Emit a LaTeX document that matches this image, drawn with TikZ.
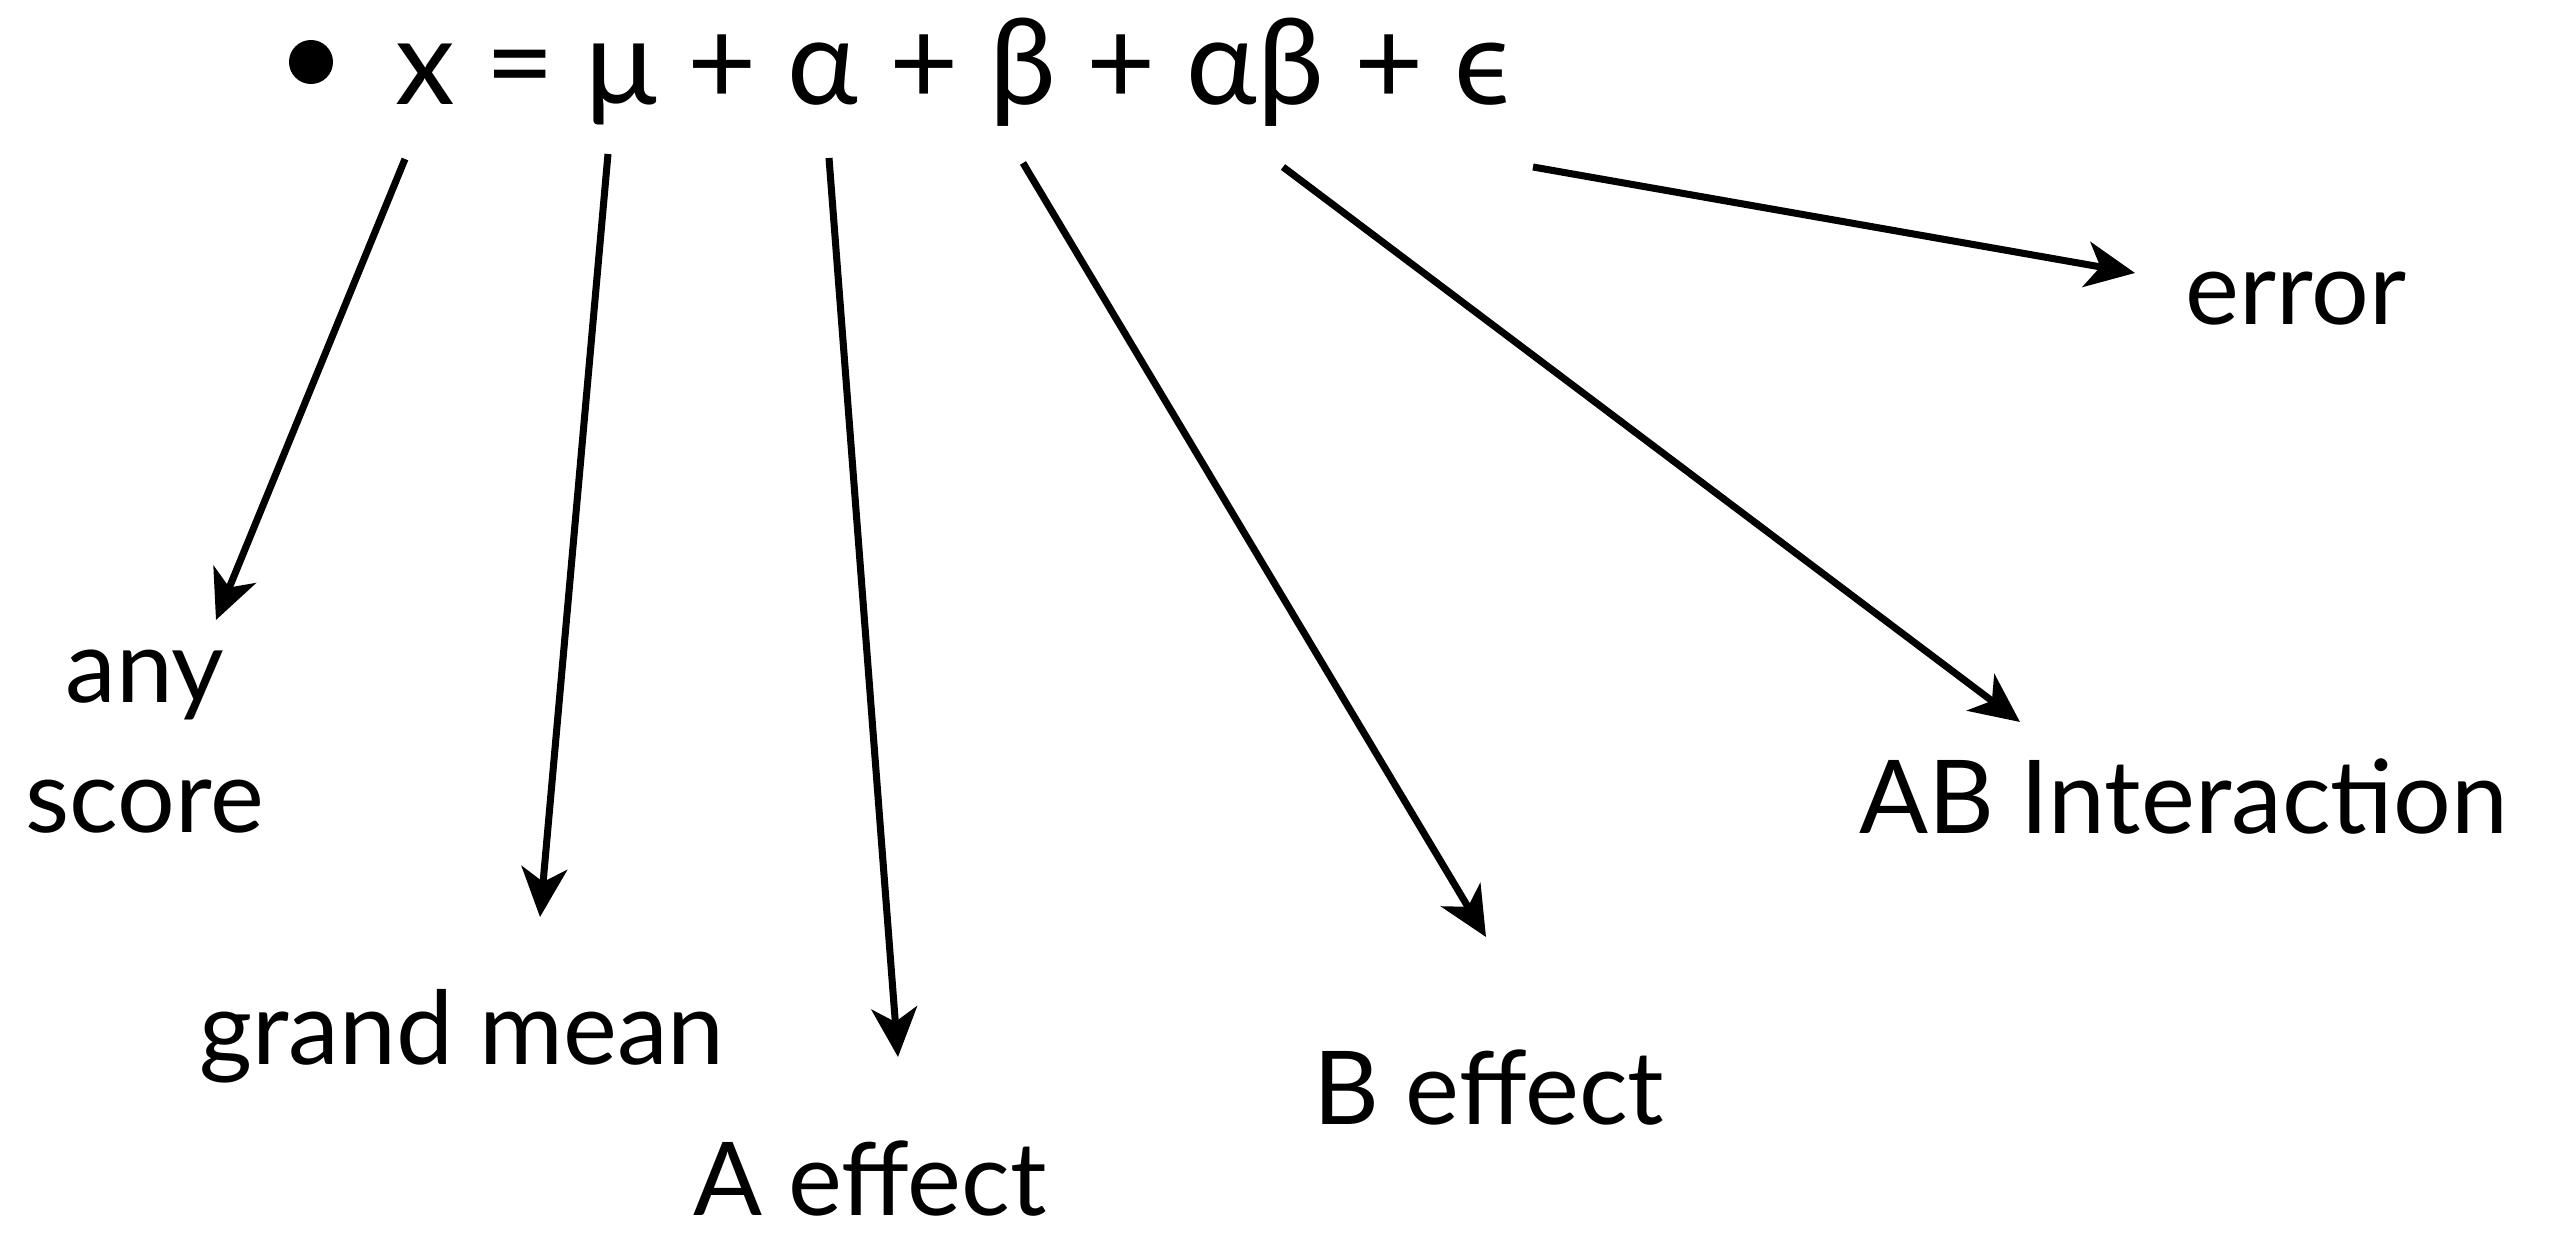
\documentclass[tikz,border=0pt]{standalone}
\usepackage{fontspec}
\setmainfont{Lato}
\usetikzlibrary{arrows.meta, positioning}

\begin{document}
\begin{tikzpicture}[
    x=0.01cm, y=-0.01cm,
    lbl/.style={font=\fontsize{29}{37}\selectfont, inner sep=0pt},
    arrow/.style={line width=2pt, -{Stealth[length=14pt, width=13pt, inset=4pt]}}
]
\useasboundingbox (0,0) rectangle (2550,1240);

% Equation
\node (dot) [circle, fill, inner sep=0pt, minimum size=0.44cm] at (311,62) {};
\node (eq) [lbl, font=\fontsize{34}{40}\selectfont, anchor=base west] at (395,105) {x = μ + α + β + αβ + ϵ};

% Labels
\node (any) [lbl, align=center, anchor=base] at (145,833) {any\\score};
\node (grand) [lbl, anchor=base] at (462,1065) {grand mean};
\node (aeff) [lbl, anchor=base] at (870,1216) {A effect};
\node (beff) [lbl, anchor=base] at (1489,1125) {B effect};
\node (abint) [lbl, anchor=base] at (2184,834) {AB Interaction};
\node (err) [lbl, anchor=base] at (2296,325) {error};

% Arrow ends
\coordinate (xTop) at (405,159);
\coordinate (muTop) at (608,154);
\coordinate (alTop) at (829,158);
\coordinate (beTop) at (1023,163);
\coordinate (abTop) at (1283,167);
\coordinate (epTop) at (1533,167);
\coordinate (anyTip) at (216,620);
\coordinate (grandTip) at (540,917);
\coordinate (aTip) at (898,1057);
\coordinate (bTip) at (1486,937);
\coordinate (abTip) at (2020,722);
\coordinate (errTip) at (2135,273);

% Connections
\draw [arrow] (xTop) -- (anyTip);
\draw [arrow] (muTop) -- (grandTip);
\draw [arrow] (alTop) -- (aTip);
\draw [arrow] (beTop) -- (bTip);
\draw [arrow] (abTop) -- (abTip);
\draw [arrow] (epTop) -- (errTip);

\end{tikzpicture}
\end{document}
